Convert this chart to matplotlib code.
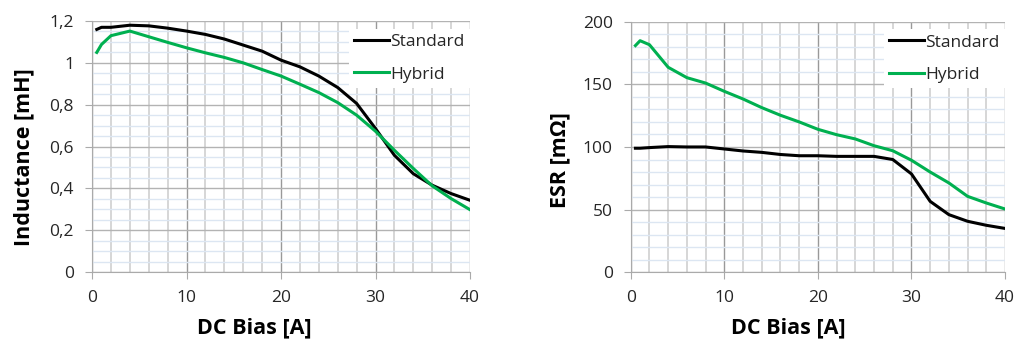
import matplotlib.pyplot as plt
from matplotlib.ticker import MultipleLocator, FuncFormatter

# DC bias points (A)
bias = [0.5, 1, 2, 4, 6, 8, 10, 12, 14, 16, 18, 20, 22, 24, 26, 28, 30, 32, 34, 36, 38, 40]

# Inductance [mH]
ind_standard = [1.16, 1.17, 1.17, 1.18, 1.177, 1.166, 1.152, 1.136, 1.114, 1.085, 1.056, 1.013,
                0.981, 0.937, 0.882, 0.806, 0.686, 0.558, 0.47, 0.415, 0.375, 0.343]
ind_hybrid = [1.05, 1.088, 1.13, 1.152, 1.125, 1.098, 1.072, 1.048, 1.026, 1.0, 0.968, 0.937,
              0.898, 0.858, 0.81, 0.75, 0.673, 0.582, 0.495, 0.412, 0.351, 0.298]

# ESR [mOhm]
esr_standard = [99, 99, 99.5, 100.3, 100, 100, 98.4, 96.8, 95.7, 94, 93, 93,
                92.5, 92.5, 92.5, 90, 78.5, 56.6, 46, 40.7, 37.5, 35]
esr_hybrid = [180.9, 184.8, 181.6, 163.6, 155.3, 151, 144.4, 138.3, 131.4, 125.3, 120, 114.1,
              109.8, 106.4, 101, 97, 89.4, 80, 71.3, 60.6, 55.3, 50.5]

GREEN = "#00b050"
plt.rcParams['font.family'] = ['Open Sans', 'DejaVu Sans']

fig = plt.figure(figsize=(10.16, 3.41), dpi=100)
ax1 = fig.add_axes([0.0906, 0.2023, 0.372, 0.736])
ax2 = fig.add_axes([0.6208, 0.2015, 0.3684, 0.735])


def style_axis(ax, ymax, ymajor, yminor, fmt):
    ax.set_xlim(0, 40)
    ax.set_ylim(0, ymax)
    ax.xaxis.set_major_locator(MultipleLocator(10))
    ax.xaxis.set_minor_locator(MultipleLocator(2))
    ax.yaxis.set_major_locator(MultipleLocator(ymajor))
    ax.yaxis.set_minor_locator(MultipleLocator(yminor))
    ax.yaxis.set_major_formatter(FuncFormatter(fmt))
    # grid lines like Excel
    ax.grid(which='minor', axis='y', color='#dce6f2', lw=1.0)
    ax.grid(which='minor', axis='x', color='#cfcfcf', lw=1.2)
    ax.grid(which='major', axis='y', color='#b3b3b3', lw=1.0)
    ax.grid(which='major', axis='x', color='#999999', lw=1.0)
    ax.set_axisbelow(True)
    for side in ['top', 'right']:
        ax.spines[side].set_visible(False)
    for side in ['left', 'bottom']:
        ax.spines[side].set_color('#aaaaaa')
    ax.tick_params(which='major', length=5, color='#aaaaaa', labelsize=12.5,
                   labelcolor='#262626')
    ax.tick_params(axis='y', pad=8)
    ax.tick_params(axis='x', pad=8)
    ax.tick_params(which='minor', length=0)
    ax.set_xlabel("DC Bias [A]", fontsize=15.5, fontweight='bold', labelpad=8)


def comma_fmt(v, pos):
    if abs(v - round(v)) < 1e-9:
        return "%d" % round(v)
    return ("%.1f" % v).replace(".", ",")


style_axis(ax1, 1.2, 0.2, 0.05, comma_fmt)
ax1.plot(bias, ind_standard, color='black', lw=2.2, label="Standard")
ax1.plot(bias, ind_hybrid, color=GREEN, lw=2.2, label="Hybrid")
ax1.set_ylabel("Inductance [mH]", fontsize=15.5, fontweight='bold', labelpad=11)
ax1.xaxis.label.set_x(0.43)
ax1.yaxis.label.set_y(0.458)

style_axis(ax2, 200, 50, 10, lambda v, pos: "%d" % v)
ax2.plot(bias, esr_standard, color='black', lw=2.2, label="Standard")
ax2.plot(bias, esr_hybrid, color=GREEN, lw=2.2, label="Hybrid")
ax2.set_ylabel("ESR [mΩ]", fontsize=15.5, fontweight='bold', labelpad=9)
ax2.xaxis.label.set_x(0.42)
ax2.yaxis.label.set_y(0.446)

for ax in (ax1, ax2):
    leg = ax.legend(loc='upper right', bbox_to_anchor=(1.0, 0.97), fontsize=12.5,
                    frameon=True, fancybox=False, framealpha=1, edgecolor='none',
                    handlelength=2.0, handletextpad=0.1, labelspacing=0.95,
                    borderpad=0.3, borderaxespad=0)
    for t in leg.get_texts():
        t.set_color('#262626')

plt.savefig("out.png", dpi=100)
